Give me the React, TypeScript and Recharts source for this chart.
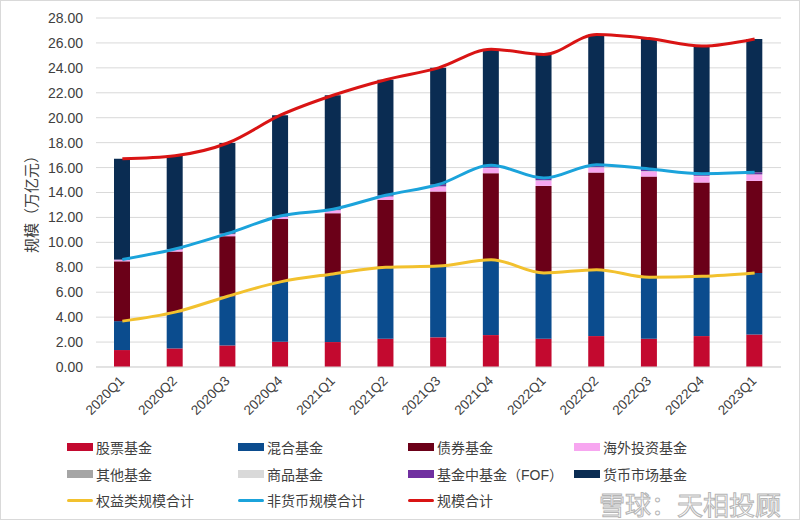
import { ComposedChart, Bar, Line, XAxis, YAxis, CartesianGrid } from 'recharts'

const QUARTERS = [
  '2020Q1', '2020Q2', '2020Q3', '2020Q4', '2021Q1', '2021Q2', '2021Q3',
  '2021Q4', '2022Q1', '2022Q2', '2022Q3', '2022Q4', '2023Q1',
]

// 万亿元
const STOCK = [1.36, 1.49, 1.73, 2.03, 2.0, 2.27, 2.38, 2.56, 2.27, 2.48, 2.27, 2.48, 2.61]
const MIXED = [2.32, 2.91, 3.95, 4.8, 5.47, 5.73, 5.72, 6.05, 5.28, 5.33, 4.93, 4.8, 4.94]
const BOND = [4.8, 4.86, 4.82, 5.04, 4.87, 5.41, 5.98, 6.94, 6.98, 7.79, 8.08, 7.52, 7.38]
const QDII = [0.1, 0.15, 0.14, 0.17, 0.22, 0.25, 0.38, 0.4, 0.42, 0.4, 0.4, 0.5, 0.48]
const OTHER = [0.01, 0.01, 0.01, 0.01, 0.01, 0.01, 0.01, 0.01, 0.01, 0.01, 0.01, 0.01, 0.01]
const COMMODITY = [0.01, 0.01, 0.01, 0.01, 0.01, 0.01, 0.02, 0.02, 0.02, 0.02, 0.02, 0.03, 0.03]
const FOF = [0.03, 0.04, 0.05, 0.06, 0.08, 0.1, 0.15, 0.2, 0.18, 0.2, 0.18, 0.17, 0.17]
const MONEY = [8.07, 7.48, 7.26, 8.08, 9.14, 9.27, 9.36, 9.32, 9.91, 10.44, 10.46, 10.24, 10.7]

const Y_TICKS = [0, 2, 4, 6, 8, 10, 12, 14, 16, 18, 20, 22, 24, 26, 28]

const FONT = "'Liberation Sans', 'Noto Sans CJK SC', sans-serif"

const r2 = (n: number) => Math.round(n * 100) / 100

const data = QUARTERS.map((q, i) => {
  const equity = STOCK[i] + MIXED[i]
  const nonMoney = equity + BOND[i] + QDII[i] + OTHER[i] + COMMODITY[i] + FOF[i]
  return {
    q,
    stock: STOCK[i],
    mixed: MIXED[i],
    bond: BOND[i],
    qdii: QDII[i],
    other: OTHER[i],
    commodity: COMMODITY[i],
    fof: FOF[i],
    money: MONEY[i],
    equity: r2(equity),
    nonMoney: r2(nonMoney),
    total: r2(nonMoney + MONEY[i]),
  }
})

const BARS = [
  { key: 'stock', label: '股票基金', color: '#C3092F' },
  { key: 'mixed', label: '混合基金', color: '#0B4C8E' },
  { key: 'bond', label: '债券基金', color: '#6B0018' },
  { key: 'qdii', label: '海外投资基金', color: '#F7A6F0' },
  { key: 'other', label: '其他基金', color: '#A5A5A5' },
  { key: 'commodity', label: '商品基金', color: '#D9D9D9' },
  { key: 'fof', label: '基金中基金（FOF）', color: '#7030A0' },
  { key: 'money', label: '货币市场基金', color: '#0A2C52' },
]

const LINES = [
  { key: 'equity', label: '权益类规模合计', color: '#F2C12E' },
  { key: 'nonMoney', label: '非货币规模合计', color: '#1BA3DB' },
  { key: 'total', label: '规模合计', color: '#D91414' },
]

function YLabel({ viewBox }: any) {
  const x = viewBox.x + 30
  const y = viewBox.y + viewBox.height / 2 + 8
  return (
    <text x={x} y={y} transform={`rotate(-90, ${x}, ${y})`} textAnchor="middle"
      dominantBaseline="central" fill="#404040" fontSize={15} fontFamily={FONT}>
      规模（万亿元）
    </text>
  )
}

function LegendBox() {
  const items = [
    ...BARS.map((b) => ({ ...b, line: false })),
    ...LINES.map((l) => ({ ...l, line: true })),
  ]
  const cols = [66, 237, 407, 573]
  return (
    <>
      {items.map((it, i) => (
        <div
          key={it.key}
          style={{
            position: 'absolute',
            left: cols[i % 4],
            top: 436 + Math.floor(i / 4) * 26.5,
            display: 'flex',
            alignItems: 'center',
            fontFamily: FONT,
            fontSize: 14,
            color: '#404040',
            whiteSpace: 'nowrap',
          }}
        >
          <span
            style={{
              display: 'inline-block',
              width: 26,
              height: it.line ? 3 : 8,
              borderRadius: it.line ? 2 : 0,
              background: it.color,
              marginRight: 3,
            }}
          />
          {it.label}
        </div>
      ))}
    </>
  )
}

export default function App() {
  return (
    <div
      style={{
        position: 'absolute',
        left: 0,
        top: 0,
        width: 800,
        height: 520,
        background: '#fff',
        border: '1px solid #d9d9d9',
        boxSizing: 'border-box',
        overflow: 'hidden',
      }}
    >
      <ComposedChart
        width={798}
        height={518}
        data={data}
        barSize={16}
        margin={{ top: 17, right: 18, left: 0, bottom: 92 }}
      >
        <CartesianGrid vertical={false} stroke="#d9d9d9" />
        <XAxis
          dataKey="q"
          interval={0}
          angle={-45}
          textAnchor="end"
          height={60}
          tickLine={false}
          axisLine={{ stroke: '#d9d9d9' }}
          tick={{ fontSize: 13.5, fill: '#404040', fontFamily: FONT, dx: -4 }}
        />
        <YAxis
          domain={[0, 28]}
          ticks={Y_TICKS}
          interval={0}
          width={95}
          tickLine={false}
          axisLine={false}
          tickMargin={7}
          tickFormatter={(v: number) => v.toFixed(2)}
          tick={{ fontSize: 14, fill: '#404040', fontFamily: FONT }}
          label={<YLabel />}
        />
        {BARS.map((b) => (
          <Bar
            key={b.key}
            dataKey={b.key}
            name={b.label}
            stackId="a"
            fill={b.color}
            isAnimationActive={false}
          />
        ))}
        {LINES.map((l) => (
          <Line
            key={l.key}
            type="monotone"
            dataKey={l.key}
            name={l.label}
            stroke={l.color}
            strokeWidth={3}
            dot={false}
            activeDot={false}
            isAnimationActive={false}
          />
        ))}
      </ComposedChart>
      <LegendBox />
      <div
        style={{
          position: 'absolute',
          left: 598,
          top: 484,
          fontFamily: FONT,
          fontSize: 26,
          color: '#fff',
          WebkitTextStroke: '1px #b5b5b5',
          whiteSpace: 'nowrap',
        }}
      >
        雪球：天相投顾
      </div>
    </div>
  )
}
